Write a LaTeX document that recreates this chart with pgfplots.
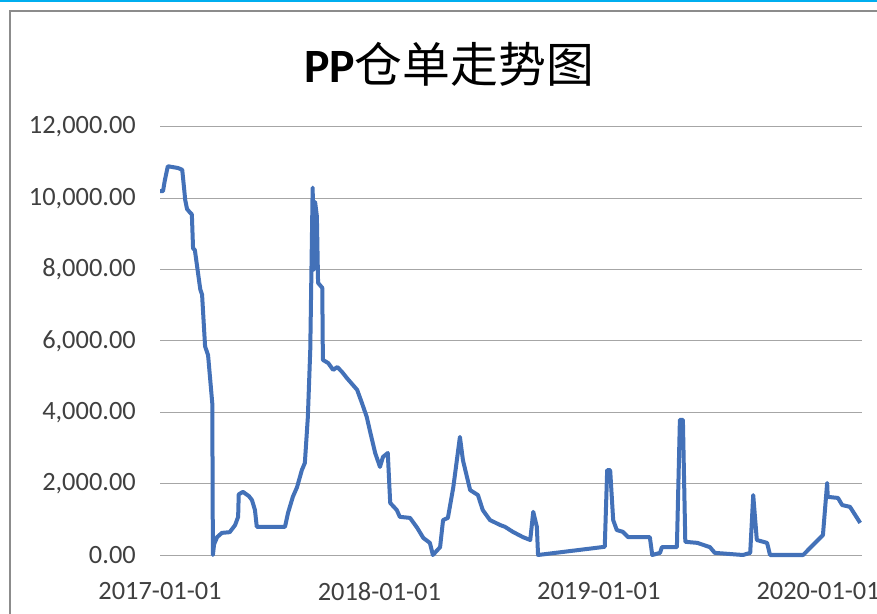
\documentclass[border=0pt]{standalone}
\usepackage{fontspec}
\setmainfont{Carlito}
\newfontfamily\cjk{Noto Sans CJK SC}
\usepackage{pgfplots}
\pgfplotsset{compat=1.18}
\definecolor{lineblue}{HTML}{4371B8}
\definecolor{gridgray}{HTML}{A6A6A6}
\definecolor{txt}{HTML}{404040}
\definecolor{framegray}{HTML}{8C8C8C}
\definecolor{topbar}{HTML}{00AEEF}
\begin{document}
\begin{tikzpicture}
\useasboundingbox (0bp,0bp) rectangle (877bp,614bp);
\fill[white] (0bp,0bp) rectangle (877bp,614bp);
\fill[topbar] (0bp,611.5bp) rectangle (877bp,614bp);
\draw[framegray, line width=1.6bp] (10bp,0bp) -- (10bp,603bp) -- (877bp,603bp);
\node[anchor=base, inner sep=0pt] at (449bp,531bp) {\fontsize{48}{56}\selectfont{\bfseries PP}{\cjk 仓单走势图}};
\begin{axis}[
  at={(160bp,59bp)}, anchor=south west,
  scale only axis, width=702bp, height=428bp,
  xmin=0, xmax=1168, ymin=0, ymax=12000,
  clip=false,
  axis line style={draw=none},
  tick style={draw=none},
  ymajorgrids, grid style={gridgray, line width=1bp},
  ytick={0,2000,4000,6000,8000,10000,12000},
  scaled y ticks=false,
  yticklabel style={/pgf/number format/fixed, /pgf/number format/fixed zerofill, /pgf/number format/precision=2, /pgf/number format/1000 sep={,}, /pgf/number format/assume math mode=true},
  yticklabel style={font=\fontsize{26.5}{30}\selectfont, text=txt, inner sep=0pt, anchor=east, xshift=-24bp},
  xtick={0,365,730,1095},
  xticklabels={2017-01-01,2018-01-01,2019-01-01,2020-01-01},
  xticklabel style={font=\fontsize{26.5}{30}\selectfont, text=txt, inner sep=0pt, anchor=north, yshift=-27bp},
]
\addplot[lineblue, line width=4bp, line join=round, mark=none] coordinates {
(0,10200) (5,10200) (8,10500) (13,10900) (30,10850) (37,10800) (42,9950) (45,9700) (50,9600) (53,9550)
(55,8600) (58,8550) (67,7450) (70,7300) (75,5850) (80,5600) (87,4250) (88,0) (90,300) (95,500)
(103,620) (116,640) (125,840) (130,1070) (131,1700) (138,1770) (148,1650) (153,1540) (158,1260) (161,790)
(208,790) (213,1180) (221,1630) (228,1900) (236,2380) (241,2580) (246,3870) (250,5750) (254,10300) (256,8000)
(258,9900) (261,9500) (263,7630) (270,7490) (271,5470) (280,5380) (288,5190) (295,5270) (303,5130) (311,4960)
(328,4630) (336,4260) (344,3870) (349,3500) (358,2860) (366,2470) (371,2750) (379,2860) (383,1460) (394,1260)
(399,1070) (416,1040) (428,760) (438,480) (449,340) (454,0) (466,220) (471,980) (479,1040) (488,1900)
(499,3310) (504,2660) (516,1820) (529,1680) (537,1260) (549,980) (566,840) (574,790) (587,650) (604,500)
(616,420) (621,1210) (627,790) (629,0) (740,230) (744,2380) (749,2380) (754,980) (760,700) (770,650)
(779,500) (815,500) (819,0) (832,60) (835,220) (860,220) (865,3790) (870,3790) (874,370) (894,340)
(915,220) (923,60) (970,0) (982,60) (987,1680) (993,420) (1010,340) (1015,0) (1070,0) (1103,560)
(1110,2020) (1111,1630) (1128,1600) (1135,1400) (1148,1350) (1165,900)
};
\end{axis}
\end{tikzpicture}
\end{document}
